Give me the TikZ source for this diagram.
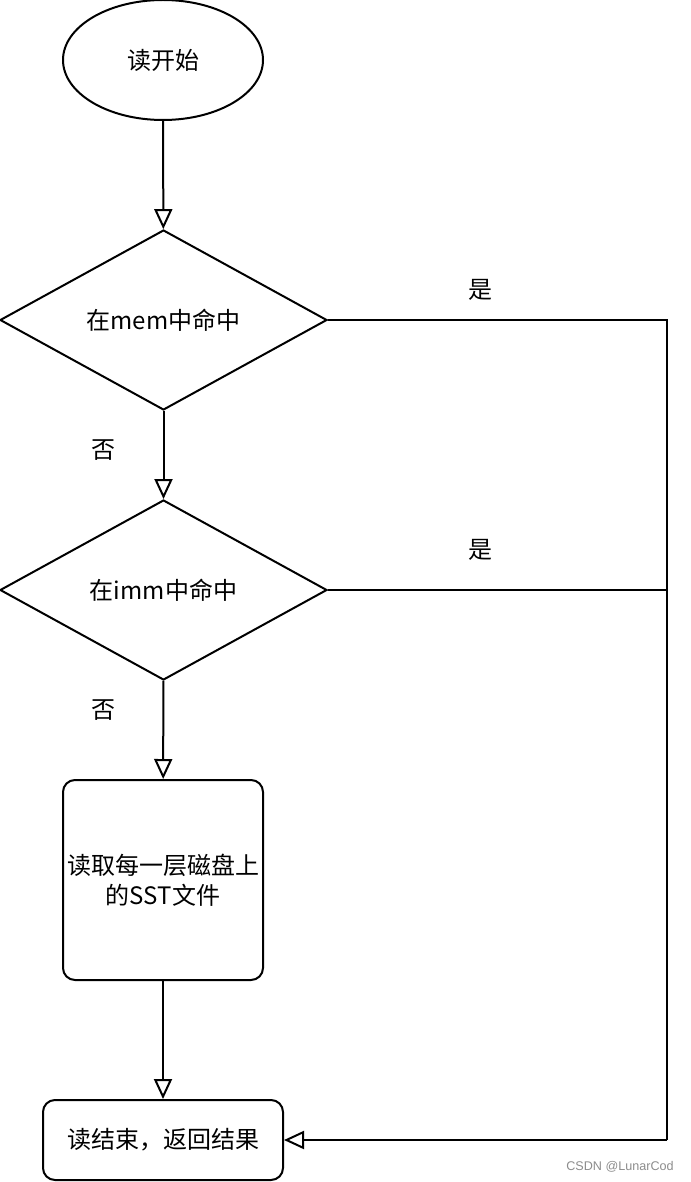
\documentclass[tikz,border=0pt]{standalone}
\usepackage{fontspec}
\setmainfont{Noto Sans CJK SC}
\newfontfamily\markfont{Liberation Sans}
\usetikzlibrary{shapes.geometric, arrows.meta, positioning}

\begin{document}
\begin{tikzpicture}[x=0.5pt, y=-0.5pt, line width=1pt, font=\fontsize{12}{15}\selectfont]

    % Define styles
    \tikzstyle{startstop} = [draw, ellipse, minimum width=100pt, minimum height=60pt, inner sep=0pt]
    \tikzstyle{decision} = [draw, diamond, aspect=1.8, minimum width=163.5pt, minimum height=90pt, inner sep=0pt]
    \tikzstyle{process} = [draw, rounded corners=6pt, align=center, inner sep=0pt]
    \tikzstyle{flow} = [-{Triangle[open, length=10pt, width=9pt]}]

    \useasboundingbox (0,0) rectangle (690,1182);

    % Nodes
    \node[startstop] (start) at (163, 60) {读开始};
    \node[decision] (mem) at (163.5, 320) {在mem中命中};
    \node[decision] (imm) at (163.5, 590) {在imm中命中};
    \node[process, minimum width=100pt, minimum height=100pt] (sst) at (163, 880) {读取每一层磁盘上\\的SST文件};
    \node[process, minimum width=120pt, minimum height=40pt] (done) at (163, 1140) {读结束，返回结果};

    % Key points on the right side
    \coordinate (r1) at (667, 320);
    \coordinate (r2) at (667, 590);
    \coordinate (r3) at (667, 1140);

    % Main path
    \draw[flow] (start) -- (mem);
    \draw[flow] (mem) -- (imm);
    \draw[flow] (imm) -- (sst);
    \draw[flow] (sst) -- (done);

    % Hit paths
    \draw (mem.east) -- (r1) -- (r3);
    \draw (imm.east) -- (r2);
    \draw[flow] (r3) -- (done.east);

    % Labels
    \node (yes1) at (480, 290) {是};
    \node (yes2) at (480, 550) {是};
    \node (no1) at (103, 450) {否};
    \node (no2) at (103, 710) {否};

    % Watermark
    \node[text=black!45, font=\markfont\fontsize{6.3}{7}\selectfont] (mark) at (620, 1167) {CSDN @LunarCod};

\end{tikzpicture}
\end{document}
